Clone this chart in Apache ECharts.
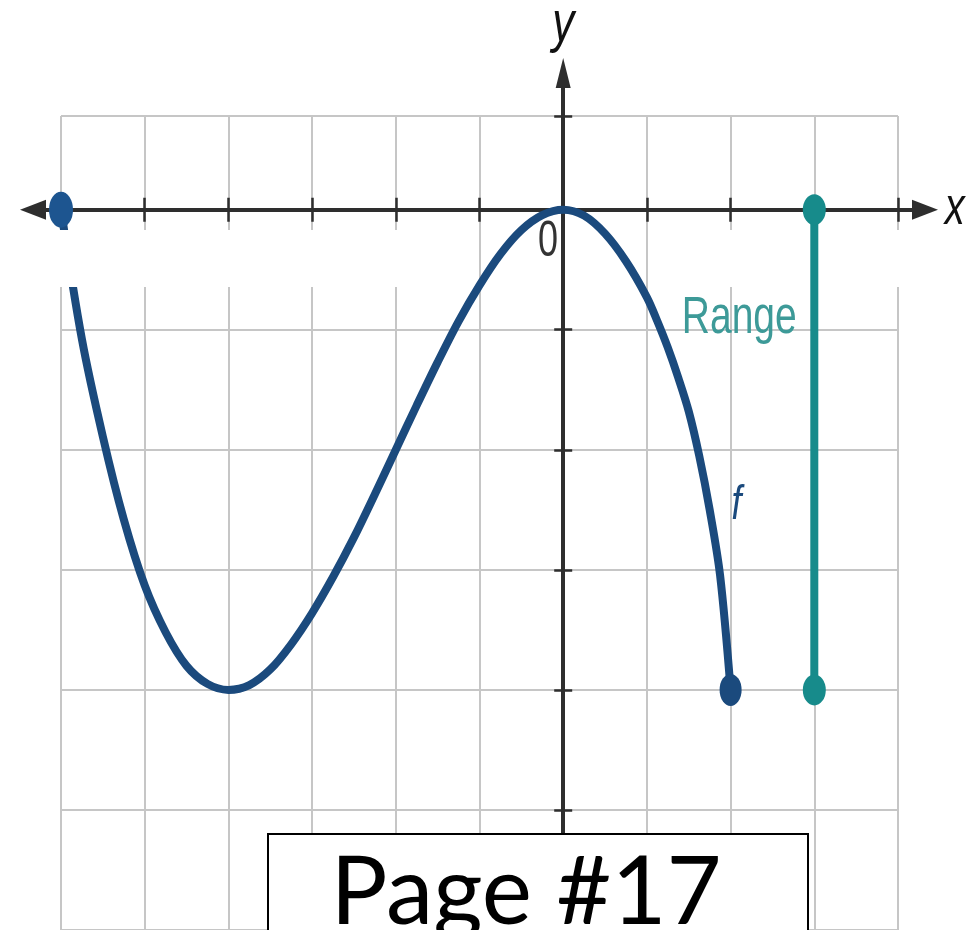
<!DOCTYPE html>
<html>
<head>
<meta charset="utf-8">
<script src="https://cdn.jsdelivr.net/npm/echarts@6/dist/echarts.min.js"></script>
<style>
  html, body { margin: 0; padding: 0; background: #ffffff; }
  #chart { width: 973px; height: 930px; }
</style>
</head>
<body>
<div id="chart"></div>
<script>
// Points along the graph of f, from (-6, 0) to (2, -4)
const curveX = [-6, -5.75, -5.5, -5.25, -5, -4.75, -4.5, -4.25, -4, -3.75, -3.5, -3.25, -3, -2.75, -2.5, -2.25, -2, -1.75, -1.5, -1.25, -1, -0.75, -0.5, -0.25, 0, 0.25, 0.5, 0.75, 1, 1.125, 1.25, 1.375, 1.5, 1.625, 1.75, 1.875, 2];
const curveY = [0, -1.08, -1.89, -2.58, -3.13, -3.52, -3.8, -3.95, -4, -3.96, -3.83, -3.62, -3.36, -3.06, -2.73, -2.37, -2, -1.63, -1.27, -0.93, -0.63, -0.37, -0.17, -0.045, 0, -0.05, -0.2, -0.43, -0.73, -0.93, -1.15, -1.4, -1.68, -2.05, -2.5, -3.05, -4];

// Closed endpoints of f
const endX = [-6, 2];
const endY = [0, -4];

// Range of f drawn as a segment at x = 3
const rangeX = 3;
const rangeTop = 0;
const rangeBottom = -4;

// Axis extents
const xMin = -6, xMax = 4;
const yMin = -6, yMax = 0.78;

// Erased strips just below the x-axis
const blankX0 = [-6.4, 1.15];
const blankX1 = [-1.55, 4.35];
const blankTop = -0.17;
const blankBottom = -0.645;

// Text labels and where they sit (data coordinates)
const labelText = ['Range', 'f', '0', 'x', 'y'];
const labelX = [2.79, 2.07, -0.18, 4.56, 0];
const labelY = [-0.907, -2.46, -0.269, 0.0, 1.54];

const W = 973, H = 930;
const plot = { left: 61, right: 75, top: 116, bottom: 0 };
const pxPerX = (W - plot.left - plot.right) / (xMax - xMin);
const pxPerY = (H - plot.top - plot.bottom) / (yMax - yMin);
const overhang = { left: 28, right: 27, top: 43 };

const NAVY = '#1b4a7d';
const TEAL = '#178b8b';
const GRID = '#c6c6c6';
const AXIS = '#2e2e2e';

const curveData = curveX.map((x, i) => [x, curveY[i]]);
const endData = endX.map((x, i) => ({
  value: [x, endY[i]],
  symbolSize: i === 0 ? [24, 36] : [22, 32],
  itemStyle: { color: i === 0 ? '#1d5590' : NAVY, opacity: 1 }
}));
const rangeData = [[rangeX, rangeTop], [rangeX, rangeBottom]];
const blankData = blankX0.map((x0, i) => [x0, blankTop, blankX1[i], blankBottom]);

const chart = echarts.init(document.getElementById('chart'), null, { renderer: 'canvas' });

const hiddenLabel = { show: false };
const tickStyle = (len) => ({ show: true, length: len, lineStyle: { color: AXIS, width: 2.5 } });

chart.setOption({
  animation: false,
  backgroundColor: '#ffffff',
  grid: [
    { left: plot.left, right: plot.right, top: plot.top, bottom: plot.bottom },
    { left: plot.left - overhang.left, right: plot.right - overhang.right, top: plot.top - overhang.top, bottom: plot.bottom }
  ],
  xAxis: [
    { // grid lines + downward ticks
      type: 'value', gridIndex: 0, min: xMin, max: xMax, interval: 1, position: 'bottom',
      axisLine: { show: false, onZero: true },
      axisTick: tickStyle(12), axisLabel: hiddenLabel,
      splitLine: { show: true, lineStyle: { color: GRID, width: 2 } }
    },
    { // upward ticks
      type: 'value', gridIndex: 0, min: xMin, max: xMax, interval: 1, position: 'top',
      axisLine: { show: false, onZero: true },
      axisTick: tickStyle(12), axisLabel: hiddenLabel, splitLine: { show: false }
    },
    { // x-axis line with arrows
      type: 'value', gridIndex: 1,
      min: xMin - overhang.left / pxPerX, max: xMax + overhang.right / pxPerX,
      axisLine: { show: true, onZero: true, symbol: ['triangle', 'triangle'], symbolSize: [20, 26],
                  lineStyle: { color: AXIS, width: 4 } },
      axisTick: { show: false }, axisLabel: hiddenLabel, splitLine: { show: false }
    }
  ],
  yAxis: [
    {
      type: 'value', gridIndex: 0, min: yMin, max: yMax, interval: 1, position: 'left',
      axisLine: { show: false, onZero: true },
      axisTick: tickStyle(9), axisLabel: hiddenLabel,
      splitLine: { show: true, lineStyle: { color: GRID, width: 2 } }
    },
    {
      type: 'value', gridIndex: 0, min: yMin, max: yMax, interval: 1, position: 'right',
      axisLine: { show: false, onZero: true },
      axisTick: tickStyle(9), axisLabel: hiddenLabel, splitLine: { show: false }
    },
    { // y-axis line with arrow
      type: 'value', gridIndex: 1,
      min: yMin, max: yMax + overhang.top / pxPerY,
      axisLine: { show: true, onZero: true, symbol: ['none', 'triangle'], symbolSize: [15, 30],
                  lineStyle: { color: AXIS, width: 4 } },
      axisTick: { show: false }, axisLabel: hiddenLabel, splitLine: { show: false }
    }
  ],
  series: [
    {
      type: 'line', xAxisIndex: 0, yAxisIndex: 0, data: curveData,
      smooth: 0.33, showSymbol: false, clip: false, z: 2,
      lineStyle: { color: NAVY, width: 8, cap: 'round', join: 'round' }
    },
    {
      type: 'custom', xAxisIndex: 0, yAxisIndex: 0, data: blankData, clip: false, z: 3,
      renderItem: function (params, api) {
        const p0 = api.coord([api.value(0), api.value(1)]);
        const p1 = api.coord([api.value(2), api.value(3)]);
        return {
          type: 'rect',
          shape: { x: p0[0], y: p0[1], width: p1[0] - p0[0], height: p1[1] - p0[1] },
          style: { fill: '#ffffff' }
        };
      }
    },
    {
      type: 'line', xAxisIndex: 0, yAxisIndex: 0, data: rangeData, clip: false, z: 4,
      symbol: 'circle', symbolSize: [23, 31], showSymbol: true,
      lineStyle: { color: TEAL, width: 8 }, itemStyle: { color: TEAL, opacity: 1 }
    },
    {
      type: 'scatter', xAxisIndex: 0, yAxisIndex: 0, data: endData, clip: false, z: 5,
      symbol: 'circle', itemStyle: { opacity: 1 }
    }
  ]
});

// Labels, placed through the grid's own scale and stretched vertically like the drawing
const labelStyle = [
  { fontSize: 39, fontStyle: 'normal', fill: '#3d9a98', align: 'right', scaleY: 1.35 },
  { fontSize: 36, fontStyle: 'italic', fill: NAVY, align: 'center', scaleY: 1.35 },
  { fontSize: 36, fontStyle: 'normal', fill: '#333333', align: 'center', scaleY: 1.4 },
  { fontSize: 40, fontStyle: 'italic', fill: '#111111', align: 'left', scaleY: 1.3 },
  { fontSize: 44, fontStyle: 'italic', fill: '#111111', align: 'center', scaleY: 1.3 }
];

const graphics = labelText.map((t, i) => {
  const p = chart.convertToPixel({ gridIndex: 0 }, [labelX[i], labelY[i]]);
  const s = labelStyle[i];
  return {
    type: 'text', x: p[0], y: p[1], scaleX: 1, scaleY: s.scaleY, z: 50,
    style: {
      text: t, fontSize: s.fontSize, fontStyle: s.fontStyle,
      fontFamily: '"Liberation Sans", Arial, sans-serif',
      fill: s.fill, align: s.align, verticalAlign: 'middle'
    }
  };
});

graphics.push({
  type: 'rect', z: 100,
  shape: { x: 268, y: 834, width: 540, height: 120 },
  style: { fill: '#ffffff', stroke: '#000000', lineWidth: 2 }
});
graphics.push({
  type: 'text', z: 101, x: 526, y: 893,
  style: { text: 'Page #17', fontSize: 95, fontFamily: 'Lato, "Open Sans", sans-serif',
           fill: '#000000', align: 'center', verticalAlign: 'middle' }
});

chart.setOption({ graphic: graphics });
</script>
</body>
</html>
